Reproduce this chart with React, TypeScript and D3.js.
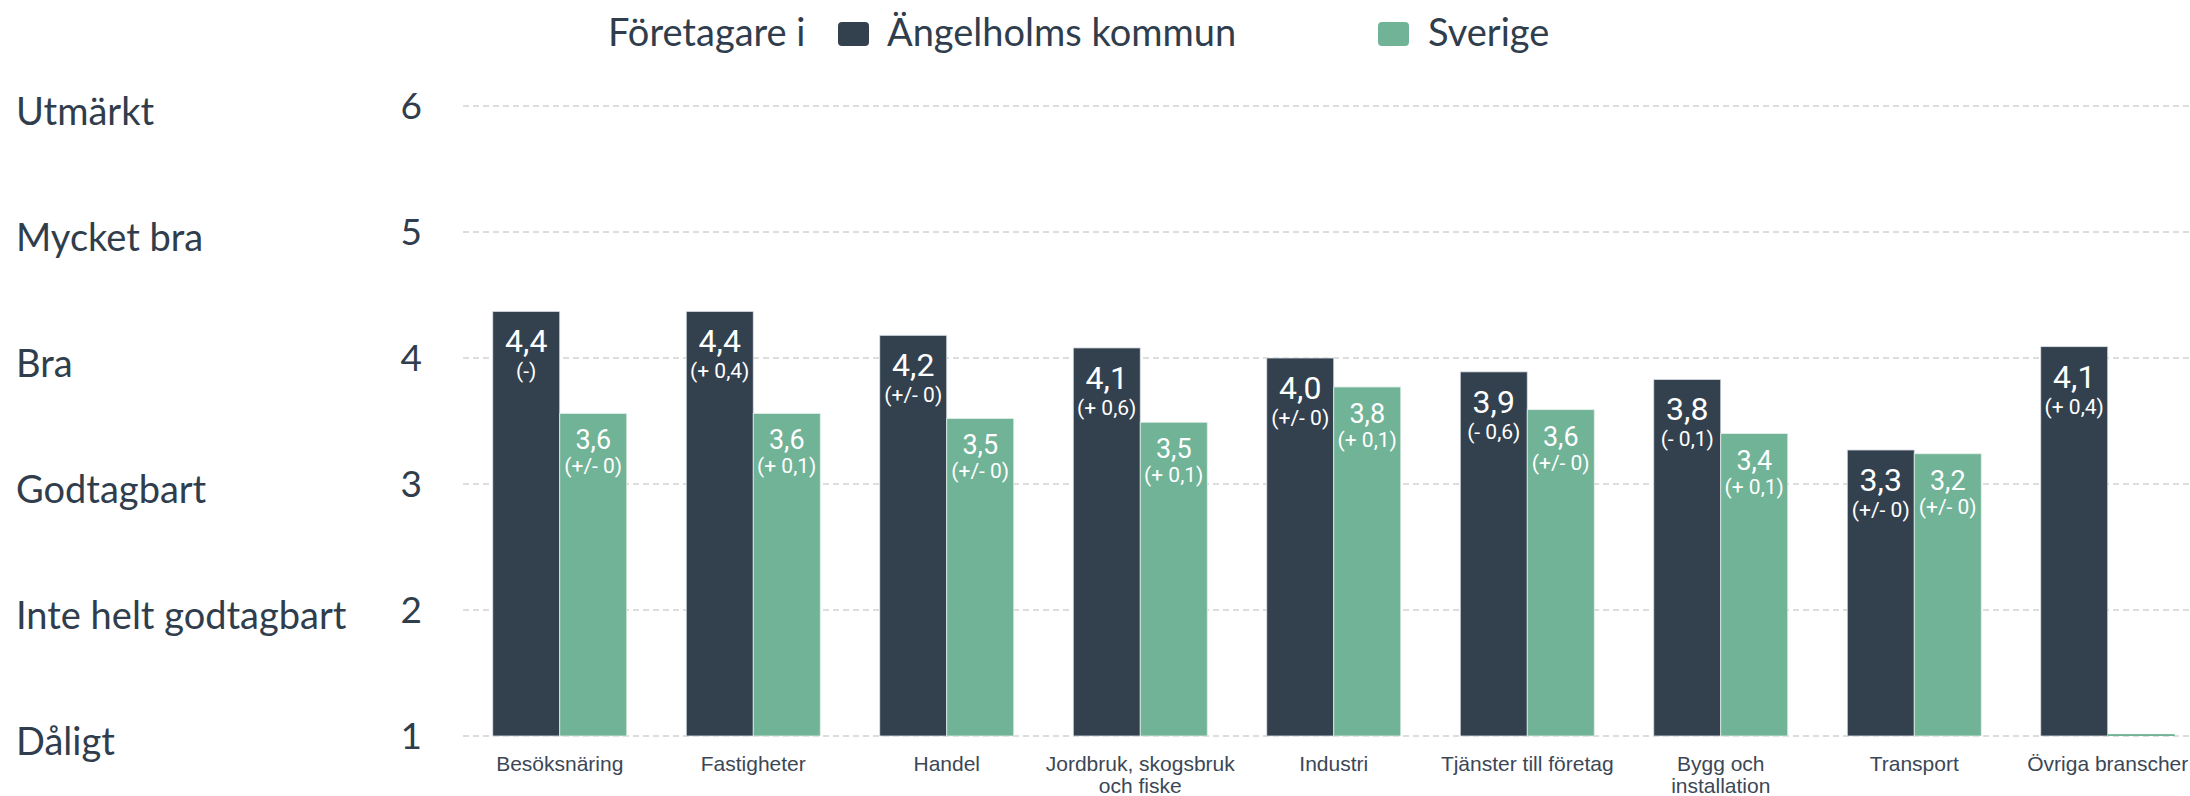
import React from "react";
import * as d3 from "d3";

const categories = [
  "Besöksnäring",
  "Fastigheter",
  "Handel",
  "Jordbruk, skogsbruk\noch fiske",
  "Industri",
  "Tjänster till företag",
  "Bygg och\ninstallation",
  "Transport",
  "Övriga branscher",
];
const kommunValues = [4.37, 4.37, 4.18, 4.08, 4.0, 3.89, 3.83, 3.27, 4.09];
const sverigeValues = [3.56, 3.56, 3.52, 3.49, 3.77, 3.59, 3.4, 3.24, 1.015];
const kommunChange = ["(-)", "(+ 0,4)", "(+/- 0)", "(+ 0,6)", "(+/- 0)", "(- 0,6)", "(- 0,1)", "(+/- 0)", "(+ 0,4)"];
const sverigeChange: (string | null)[] = ["(+/- 0)", "(+ 0,1)", "(+/- 0)", "(+ 0,1)", "(+ 0,1)", "(+/- 0)", "(+ 0,1)", "(+/- 0)", null];
const yTicks = [1, 2, 3, 4, 5, 6];
const yTickLabels = ["Dåligt", "Inte helt godtagbart", "Godtagbart", "Bra", "Mycket bra", "Utmärkt"];
const legendTitle = "Företagare i";
const seriesNames = ["Ängelholms kommun", "Sverige"];

const W = 2190;
const H = 796;
const DARK = "#33414f";
const GREEN = "#70b397";
const TEXT = "#2f3d4c";
const GEO = "Lato, 'Open Sans', sans-serif";
const NUM = "Roboto, 'Open Sans', sans-serif";

const fmt = (v: number) => d3.format(".1f")(v).replace(".", ",");

export default function App() {
  const x = d3
    .scaleBand<string>()
    .domain(categories)
    .range([463, 2204.5])
    .paddingInner(0.3075)
    .paddingOuter(0.15375);
  const sub = d3.scaleBand<string>().domain(["k", "s"]).range([0, x.bandwidth()]).padding(0);
  const y = d3.scaleLinear().domain([1, 6]).range([736, 106]);

  return (
    <svg
      width={W}
      height={H}
      style={{ position: "absolute", left: 0, top: 0, background: "#fff" }}
    >
      {/* legend */}
      <g fontFamily={GEO} fontSize={38} fill={TEXT}>
        <text x={608} y={46}>{legendTitle}</text>
        <rect x={838} y={22} width={31} height={24} rx={4} fill={DARK} />
        <text x={887} y={46}>{seriesNames[0]}</text>
        <rect x={1378} y={22} width={31} height={24} rx={4} fill={GREEN} />
        <text x={1428} y={46}>{seriesNames[1]}</text>
      </g>

      {/* grid + y ticks */}
      {yTicks.map((t, i) => (
        <g key={t}>
          <line
            x1={463}
            x2={W}
            y1={y(t)}
            y2={y(t)}
            stroke="#d2d2d2"
            strokeWidth={1.3}
            strokeDasharray="6,4"
          />
          <text x={422} y={y(t) + 13} textAnchor="end" fontFamily={GEO} fontSize={37} fill={TEXT}>
            {t}
          </text>
          <text x={16} y={y(t) + 19} fontFamily={GEO} fontSize={38} fill={TEXT}>
            {yTickLabels[i]}
          </text>
        </g>
      ))}

      {/* bars */}
      {categories.map((c, i) => {
        const x0 = x(c)!;
        const bw = sub.bandwidth();
        const kx = x0 + sub("k")!;
        const sx = x0 + sub("s")!;
        const kTop = y(kommunValues[i]);
        const sTop = y(sverigeValues[i]);
        return (
          <g key={c}>
            <rect x={kx} y={kTop} width={bw} height={y(1) - kTop} fill={DARK} stroke="#dde2e6" strokeWidth={0.8} />
            <rect x={sx} y={sTop} width={bw} height={y(1) - sTop} fill={GREEN} stroke={sverigeChange[i] ? "#e3efe9" : "none"} strokeWidth={0.8} />
            <text x={kx + bw / 2} y={kTop + 41} textAnchor="middle" fill="#fff" fontFamily={NUM} fontSize={32}>
              {fmt(kommunValues[i])}
            </text>
            <text x={kx + bw / 2} y={kTop + 67} textAnchor="middle" fill="#fff" fontFamily={NUM} fontSize={21}>
              {kommunChange[i]}
            </text>
            {sverigeChange[i] !== null && (
              <>
                <text x={sx + bw / 2} y={sTop + 36} textAnchor="middle" fill="#fff" fontFamily={NUM} fontSize={27}>
                  {fmt(sverigeValues[i])}
                </text>
                <text x={sx + bw / 2} y={sTop + 60} textAnchor="middle" fill="#fff" fontFamily={NUM} fontSize={21}>
                  {sverigeChange[i]}
                </text>
              </>
            )}
            <text
              x={x0 + x.bandwidth() / 2}
              y={771}
              textAnchor="middle"
              fontFamily="'Liberation Sans', Arial, sans-serif"
              fontSize={21}
              fill="#3b4756"
            >
              {c.split("\n").map((line, j) => (
                <tspan key={j} x={x0 + x.bandwidth() / 2} dy={j === 0 ? 0 : 22}>
                  {line}
                </tspan>
              ))}
            </text>
          </g>
        );
      })}
    </svg>
  );
}
